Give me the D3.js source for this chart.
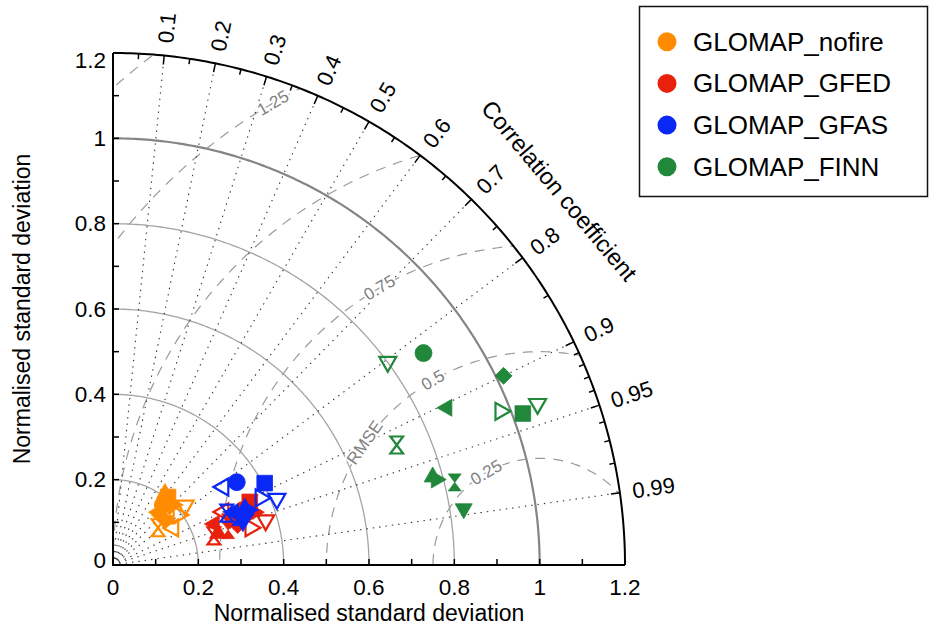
<!DOCTYPE html>
<html>
<head>
<meta charset="utf-8">
<script src="https://cdn.jsdelivr.net/npm/d3@7"></script>
<style>
  body { margin: 0; background: #fff; }
  svg { display: block; font-family: "Liberation Sans", Arial, Helvetica, sans-serif; }
</style>
</head>
<body>
<svg id="chart" width="931" height="634"></svg>
<script>
// modelos e cores da legenda
const models = ['GLOMAP_nofire', 'GLOMAP_GFED', 'GLOMAP_GFAS', 'GLOMAP_FINN'];
const colors = ['#ff8c00', '#e8200c', '#0a28f5', '#21873b'];

// desvio padrão normalizado, correlação, marcador, preenchido (1) ou vazio (0)
const nofireStd    = [0.205, 0.210, 0.183, 0.161, 0.161, 0.177, 0.158, 0.217, 0.196, 0.137, 0.202, 0.163];
const nofireCorr   = [0.629, 0.580, 0.639, 0.684, 0.639, 0.751, 0.771, 0.779, 0.801, 0.771, 0.717, 0.846];
const nofireMarker = ['s', '^', 'o', 'd', '<', 'x', 'v', 'v', '>', 'x', '>', '<'];
const nofireFilled = [1, 1, 1, 1, 1, 1, 1, 0, 0, 0, 1, 0];

const gfedStd    = [0.353, 0.330, 0.372, 0.337, 0.258, 0.246, 0.284, 0.294, 0.307, 0.253, 0.282, 0.357];
const gfedCorr   = [0.908, 0.921, 0.962, 0.966, 0.954, 0.961, 0.899, 0.934, 0.952, 0.925, 0.957, 0.938];
const gfedMarker = ['s', 'o', 'v', '>', '^', 'x', '<', 'v', 'd', '<', 'x', '>'];
const gfedFilled = [1, 1, 0, 0, 1, 0, 0, 1, 1, 1, 1, 1];

const gfasStd    = [0.349, 0.314, 0.404, 0.383, 0.413, 0.293, 0.338, 0.314, 0.333, 0.320, 0.305, 0.346];
const gfasCorr   = [0.831, 0.813, 0.880, 0.912, 0.930, 0.910, 0.915, 0.934, 0.934, 0.952, 0.914, 0.928];
const gfasMarker = ['o', '<', 's', '>', 'v', 'x', '^', 'x', 'd', 'v', '<', '>'];
const gfasFilled = [1, 0, 1, 0, 0, 0, 1, 1, 1, 1, 1, 1];

const finnStd    = [0.799, 0.881, 1.017, 0.862, 0.980, 1.024, 1.063, 0.722, 0.778, 0.787, 0.824, 0.832];
const finnCorr   = [0.806, 0.826, 0.900, 0.904, 0.930, 0.938, 0.936, 0.921, 0.963, 0.967, 0.972, 0.988];
const finnMarker = ['v', 'o', 'd', '<', '>', 's', 'v', 'x', '^', '>', 'x', 'v'];
const finnFilled = [0, 1, 1, 1, 0, 1, 0, 0, 1, 1, 1, 1];

// eixos e grades
const stdTicks = [0, 0.2, 0.4, 0.6, 0.8, 1, 1.2];
const stdMinor = [0.1, 0.3, 0.5, 0.7, 0.9, 1.1];
const stdArcs = [0.2, 0.4, 0.6, 0.8];
const corrLabels = [0.1, 0.2, 0.3, 0.4, 0.5, 0.6, 0.7, 0.8, 0.9, 0.95, 0.99];
const corrMinor = [0.05, 0.15, 0.25, 0.35, 0.45, 0.55, 0.65, 0.75, 0.85, 0.91, 0.92, 0.93, 0.94, 0.96, 0.97, 0.98];
const rmseLevels = [0.25, 0.5, 0.75, 1, 1.25, 1.5];
const rmseLabels = [0.25, 0.5, 0.75, 1.25];

const series = [
  { std: nofireStd, corr: nofireCorr, marker: nofireMarker, filled: nofireFilled },
  { std: gfedStd, corr: gfedCorr, marker: gfedMarker, filled: gfedFilled },
  { std: gfasStd, corr: gfasCorr, marker: gfasMarker, filled: gfasFilled },
  { std: finnStd, corr: finnCorr, marker: finnMarker, filled: finnFilled }
];

const RMAX = 1.2;
const x = d3.scaleLinear().domain([0, RMAX]).range([113, 625]);
const y = d3.scaleLinear().domain([0, RMAX]).range([565, 53]);

const svg = d3.select('#chart');
const line = d3.line().x(d => x(d[0])).y(d => y(d[1]));

// arco de raio r centrado em (cx, 0), em unidades dos dados
function arcPts(r, cx = 0, a0 = 0, a1 = Math.PI / 2, n = 180) {
  return d3.range(n + 1).map(i => {
    const a = a0 + (a1 - a0) * i / n;
    return [cx + r * Math.cos(a), r * Math.sin(a)];
  });
}

// recorte em quarto de círculo
const clipPts = [[0, 0]].concat(arcPts(RMAX));
svg.append('clipPath').attr('id', 'quarto')
  .append('path').attr('d', line(clipPts) + 'Z');

const grid = svg.append('g').attr('clip-path', 'url(#quarto)');

// arcos de desvio padrão
grid.selectAll('.stdarc').data(stdArcs).enter().append('path')
  .attr('d', r => line(arcPts(r)))
  .attr('fill', 'none').attr('stroke', '#a4a4a4').attr('stroke-width', 1.3);
grid.append('path').attr('d', line(arcPts(1)))
  .attr('fill', 'none').attr('stroke', '#858585').attr('stroke-width', 2.2);

// contornos de RMSE
grid.selectAll('.rmse').data(rmseLevels).enter().append('path')
  .attr('d', r => line(arcPts(r, 1, 0, Math.PI, 240)))
  .attr('fill', 'none').attr('stroke', '#9a9a9a').attr('stroke-width', 1.2)
  .attr('stroke-dasharray', '10,8');

// raios de correlação
grid.selectAll('.ray').data(corrLabels).enter().append('line')
  .attr('x1', x(0)).attr('y1', y(0))
  .attr('x2', c => x(RMAX * c)).attr('y2', c => y(RMAX * Math.sqrt(1 - c * c)))
  .attr('stroke', '#333').attr('stroke-width', 1.1)
  .attr('stroke-dasharray', '1.4,5');

// rótulos dos contornos
const ang = 120 * Math.PI / 180;
svg.selectAll('.rmselab').data(rmseLabels).enter().append('text')
  .attr('transform', r => `translate(${x(1 + r * Math.cos(ang))},${y(r * Math.sin(ang))}) rotate(-30)`)
  .attr('text-anchor', 'middle').attr('dominant-baseline', 'central')
  .attr('font-size', 17).attr('fill', '#808080')
  .attr('stroke', '#fff').attr('stroke-width', 4).attr('paint-order', 'stroke')
  .text(r => String(r));
const angR = 145 * Math.PI / 180;
svg.append('text')
  .attr('transform', `translate(${x(1 + 0.5 * Math.cos(angR))},${y(0.5 * Math.sin(angR))}) rotate(-55)`)
  .attr('text-anchor', 'middle').attr('dominant-baseline', 'central')
  .attr('font-size', 17).attr('fill', '#808080')
  .attr('stroke', '#fff').attr('stroke-width', 4).attr('paint-order', 'stroke')
  .text('RMSE');

// arco externo e eixos
svg.append('path').attr('d', line(arcPts(RMAX)))
  .attr('fill', 'none').attr('stroke', '#000').attr('stroke-width', 2);
svg.append('path')
  .attr('d', `M${x(0)},${y(RMAX)}V${y(0)}H${x(RMAX)}`)
  .attr('fill', 'none').attr('stroke', '#000').attr('stroke-width', 2);

// marcas dos eixos
const allStd = stdTicks.slice(1, -1).concat(stdMinor);
svg.selectAll('.ytick').data(allStd).enter().append('line')
  .attr('x1', x(0)).attr('x2', x(0) + 6)
  .attr('y1', d => y(d)).attr('y2', d => y(d))
  .attr('stroke', '#000').attr('stroke-width', 1.5);
svg.selectAll('.xtick').data(allStd).enter().append('line')
  .attr('x1', d => x(d)).attr('x2', d => x(d))
  .attr('y1', y(0)).attr('y2', y(0) - 6)
  .attr('stroke', '#000').attr('stroke-width', 1.5);

function corrTick(c, len) {
  const s = Math.sqrt(1 - c * c);
  const r2 = RMAX - len / (x(1) - x(0));
  return `M${x(RMAX * c)},${y(RMAX * s)}L${x(r2 * c)},${y(r2 * s)}`;
}
svg.selectAll('.ctick').data(corrLabels).enter().append('path')
  .attr('d', c => corrTick(c, 9)).attr('stroke', '#000').attr('stroke-width', 1.5);
svg.selectAll('.cminor').data(corrMinor).enter().append('path')
  .attr('d', c => corrTick(c, 5.5)).attr('stroke', '#000').attr('stroke-width', 1.5);

// rótulos
const fmt = d => String(d);
svg.selectAll('.ylab').data(stdTicks).enter().append('text')
  .attr('x', 106)
  .attr('y', d => y(d) + (d === RMAX ? 7 : d === 0 ? -5 : 0))
  .attr('text-anchor', 'end').attr('dominant-baseline', 'central')
  .attr('font-size', 22.5).text(fmt);
svg.selectAll('.xlab').data(stdTicks).enter().append('text')
  .attr('x', d => x(d)).attr('y', 587)
  .attr('text-anchor', 'middle').attr('dominant-baseline', 'central')
  .attr('font-size', 22.5).text(fmt);

const rl = 1.2295;
svg.selectAll('.clab').data(corrLabels).enter().append('text')
  .attr('transform', c => {
    const t = Math.acos(c);
    return `translate(${x(rl * c)},${y(rl * Math.sin(t))}) rotate(${-t * 180 / Math.PI})`;
  })
  .attr('text-anchor', 'start').attr('dominant-baseline', 'central')
  .attr('font-size', 22).text(fmt);

const tt = 40 * Math.PI / 180, rt = 1.365;
svg.append('text')
  .attr('transform', `translate(${x(rt * Math.cos(tt))},${y(rt * Math.sin(tt))}) rotate(50)`)
  .attr('text-anchor', 'middle').attr('dominant-baseline', 'central')
  .attr('font-size', 23.5).text('Correlation coefficient');

svg.append('text')
  .attr('x', x(0.6)).attr('y', 621)
  .attr('text-anchor', 'middle').attr('font-size', 23)
  .text('Normalised standard deviation');
svg.append('text')
  .attr('transform', `translate(30,${y(0.6)}) rotate(-90)`)
  .attr('text-anchor', 'middle').attr('font-size', 23)
  .text('Normalised standard deviation');

// marcadores
function markerPath(m, r) {
  const a = r * 0.92, b = r * 0.75;
  switch (m) {
    case 'o': return `M${r},0A${r},${r} 0 1,1 ${-r},0A${r},${r} 0 1,1 ${r},0Z`;
    case 's': return `M${-a},${-a}H${a}V${a}H${-a}Z`;
    case 'd': return `M0,${-r}L${r},0L0,${r}L${-r},0Z`;
    case '^': return `M0,${-r}L${r},${b}L${-r},${b}Z`;
    case 'v': return `M0,${r}L${r},${-b}L${-r},${-b}Z`;
    case '<': return `M${-r},0L${b},${-r}L${b},${r}Z`;
    case '>': return `M${r},0L${-b},${-r}L${-b},${r}Z`;
    case 'x': return `M${-b},${-r}L${b},${-r}L${-b},${r}L${b},${r}Z`;
  }
}

series.forEach((s, k) => {
  const pts = s.std.map((sd, i) => ({
    sd, c: s.corr[i], m: s.marker[i], f: s.filled[i]
  }));
  svg.append('g').selectAll('path').data(pts).enter().append('path')
    .attr('transform', d => `translate(${x(d.sd * d.c)},${y(d.sd * Math.sqrt(1 - d.c * d.c))})`)
    .attr('d', d => markerPath(d.m, 8.5))
    .attr('fill', d => d.f ? colors[k] : 'none')
    .attr('stroke', colors[k])
    .attr('stroke-width', d => d.f ? 0.8 : 2.2)
    .attr('stroke-linejoin', 'miter');
});

// legenda
const leg = svg.append('g');
leg.append('rect').attr('x', 639.5).attr('y', 6.5).attr('width', 288).attr('height', 190)
  .attr('fill', '#fff').attr('stroke', '#111').attr('stroke-width', 1.5);
models.forEach((name, i) => {
  const yy = 41.7 + i * 41.7;
  leg.append('circle').attr('cx', 667).attr('cy', yy).attr('r', 9.5).attr('fill', colors[i]);
  leg.append('text').attr('x', 693).attr('y', yy)
    .attr('dominant-baseline', 'central').attr('font-size', 26).text(name);
});
</script>
</body>
</html>
